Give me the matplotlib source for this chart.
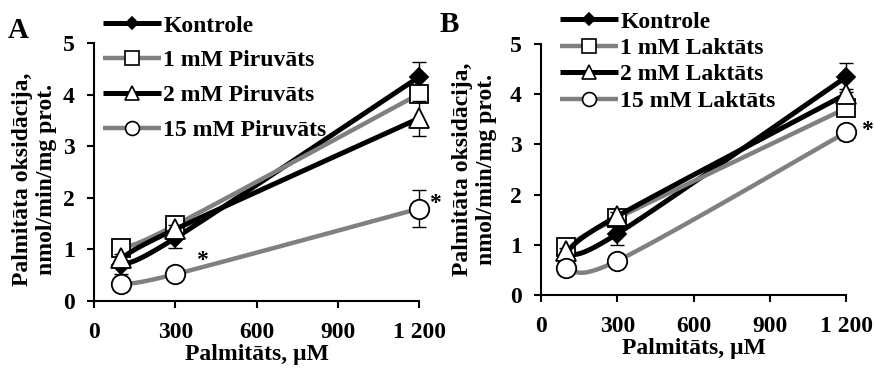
import numpy as np
import matplotlib
matplotlib.use("Agg")
import matplotlib.pyplot as plt
from matplotlib.lines import Line2D

plt.rcParams['font.family'] = ['Liberation Serif', 'DejaVu Serif']
plt.rcParams['font.weight'] = 'bold'

# ---------------- data ----------------
x_vals = [100, 300, 1200]

labels_A = ["Kontrole", "1 mM Piruvāts", "2 mM Piruvāts", "15 mM Piruvāts"]
kontrole_A = [0.70, 1.22, 4.34]
piruv1_A = [1.02, 1.47, 4.01]
piruv2_A = [0.83, 1.39, 3.54]
piruv15_A = [0.33, 0.52, 1.79]
err_kontrole_A = [0.18, 0.20, 0.29]
err_piruv1_A = [0.08, 0.08, 0.15]
err_piruv2_A = [0.08, 0.08, 0.34]
err_piruv15_A = [0.06, 0.06, 0.36]

labels_B = ["Kontrole", "1 mM Laktāts", "2 mM Laktāts", "15 mM Laktāts"]
kontrole_B = [0.80, 1.22, 4.34]
lakt1_B = [0.95, 1.53, 3.72]
lakt2_B = [0.87, 1.57, 4.00]
lakt15_B = [0.54, 0.68, 3.24]
err_kontrole_B = [0.10, 0.22, 0.29]
err_lakt1_B = [0.06, 0.08, 0.10]
err_lakt2_B = [0.06, 0.08, 0.10]
err_lakt15_B = [0.05, 0.05, 0.15]

x_ticks = [0, 300, 600, 900, 1200]
x_ticklabels = ["0", "300", "600", "900", "1 200"]
y_ticks = [0, 1, 2, 3, 4, 5]

# styles
BLACK = "#000000"
GRAY = "#808080"
styles = [
    dict(color=BLACK, lw=3.6, marker="D", ms=9, mfc=BLACK, lms=6.5),
    dict(color=GRAY, lw=3.2, marker="s", ms=13, mfc="white", lms=9.5),
    dict(color=BLACK, lw=3.6, marker="^", ms=14, mfc="white", lms=10),
    dict(color=GRAY, lw=3.2, marker="o", ms=14, mfc="white", lms=10),
]

W_px, H_px = 325.0, 258.0


def smooth(xs, ys, xmax=1200.0, ymax=5.0, n=60):
    # Excel-like smoothed line (Catmull-Rom Bezier) in screen-like units
    P = np.column_stack([np.asarray(xs, float) / xmax * W_px,
                         np.asarray(ys, float) / ymax * H_px])
    m = len(P)
    out = []
    for i in range(m - 1):
        p0 = P[i - 1] if i > 0 else P[i]
        p1 = P[i]
        p2 = P[i + 1]
        p3 = P[i + 2] if i + 2 < m else P[i + 1]
        c1 = p1 + (p2 - p0) / 6.0
        c2 = p2 - (p3 - p1) / 6.0
        t = np.linspace(0, 1, n)[:, None]
        seg = ((1 - t) ** 3) * p1 + 3 * ((1 - t) ** 2) * t * c1 + 3 * (1 - t) * t ** 2 * c2 + t ** 3 * p2
        out.append(seg if i == 0 else seg[1:])
    out = np.vstack(out)
    return out[:, 0] / W_px * xmax, out[:, 1] / H_px * ymax


fig = plt.figure(figsize=(8.74, 3.68), dpi=100)

FS = 17


def draw_panel(ax, series, errs, labels, leg_anchor, leg_spacing):
    for k, (ys, er, st) in enumerate(zip(series, errs, styles)):
        ax.errorbar(x_vals, ys, yerr=er, fmt="none", ecolor=BLACK, elinewidth=1.0,
                    capsize=5, capthick=1.0, zorder=2 + 3 * k, clip_on=False)
        sx, sy = smooth(x_vals, ys)
        ax.plot(sx, sy, color=st["color"], lw=st["lw"], solid_capstyle="butt",
                zorder=3 + 3 * k, clip_on=False)
        ax.plot(x_vals, ys, ls="none", marker=st["marker"], ms=st["ms"],
                mfc=st["mfc"], mec=BLACK, mew=1.3, zorder=4 + 3 * k, clip_on=False)
    ax.set_xlim(0, 1200)
    ax.set_ylim(0, 5)
    ax.set_xticks(x_ticks)
    ax.set_xticklabels(x_ticklabels)
    ax.set_yticks(y_ticks)
    for s in ["top", "right"]:
        ax.spines[s].set_visible(False)
    for s in ["left", "bottom"]:
        ax.spines[s].set_linewidth(1.5)
    ax.tick_params(direction="out", length=5, width=1.5, labelsize=FS)
    ax.tick_params(axis="y", pad=9)
    ax.tick_params(axis="x", pad=10)
    ax.set_xlabel("Palmitāts, µM", fontsize=FS, fontweight="bold", labelpad=1)
    ax.set_ylabel("Palmitāta oksidācija,\nnmol/min/mg prot.", fontsize=FS,
                  fontweight="bold", linespacing=1.15)
    for lab in ax.get_xticklabels() + ax.get_yticklabels():
        lab.set_fontweight("bold")

    handles = [Line2D([], [], color=st["color"], lw=st["lw"], marker=st["marker"],
                      ms=st["lms"], mfc=st["mfc"], mec=BLACK, mew=1.2,
                      solid_capstyle="butt") for st in styles]
    leg = fig.legend(handles, labels, loc="upper left", bbox_to_anchor=leg_anchor,
                     bbox_transform=fig.transFigure, frameon=False,
                     prop=dict(size=FS, weight="bold"), handlelength=2.45,
                     handletextpad=0.1, labelspacing=leg_spacing, borderaxespad=0,
                     borderpad=0)
    leg.set_zorder(20)
    return leg


axA = fig.add_axes([94 / 874, 1 - 301 / 368, 325 / 874, 258 / 368])
draw_panel(axA, [kontrole_A, piruv1_A, piruv2_A, piruv15_A],
           [err_kontrole_A, err_piruv1_A, err_piruv2_A, err_piruv15_A],
           labels_A, (103 / 874, 1 - 15 / 368), 0.56)
axA.yaxis.set_label_coords(-0.115, 0.47)
axA.text(1.05, 1.88 / 5, "*", transform=axA.transAxes, fontsize=FS, ha="center", va="center")
axA.text(400, 0.78, "*", fontsize=FS, ha="center", va="center")

axB = fig.add_axes([541 / 874, 1 - 295 / 368, 305 / 874, 251 / 368])
draw_panel(axB, [kontrole_B, lakt1_B, lakt2_B, lakt15_B],
           [err_kontrole_B, err_lakt1_B, err_lakt2_B, err_lakt15_B],
           labels_B, (560 / 874, 1 - 11 / 368), 0.21)
axB.yaxis.set_label_coords(-0.145, 0.5)
axB.text(1.07, 3.28 / 5, "*", transform=axB.transAxes, fontsize=FS, ha="center", va="center")

fig.text(8 / 874, 1 - 30 / 368, "A", fontsize=21, fontweight="bold", va="center")
fig.text(440 / 874, 1 - 24 / 368, "B", fontsize=21, fontweight="bold", va="center")

fig.savefig("out.png", dpi=100)
